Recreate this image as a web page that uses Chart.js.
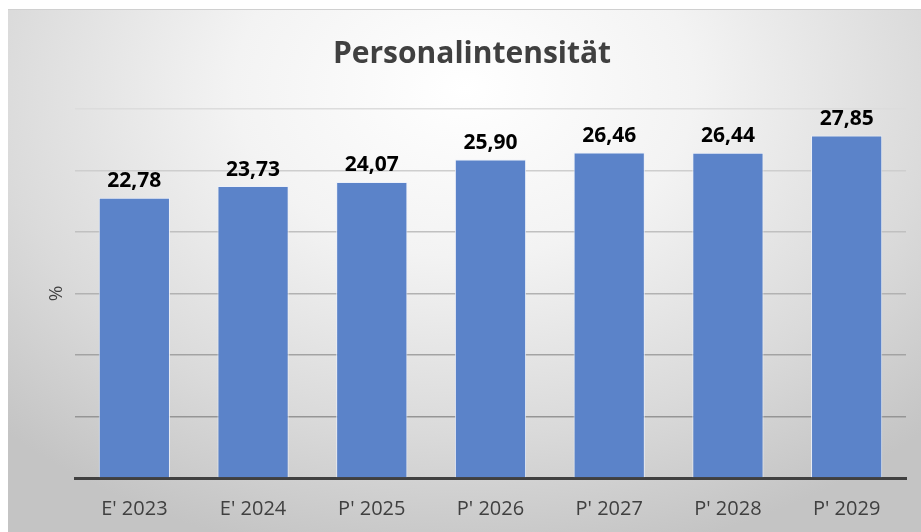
<!DOCTYPE html>
<html>
<head>
<meta charset="utf-8">
<script src="https://cdn.jsdelivr.net/npm/chart.js@4/dist/chart.umd.min.js"></script>
<style>
  html, body { margin: 0; padding: 0; background: #fff; }
  #wrap {
    position: absolute; left: 8px; top: 9px; width: 913px; height: 523px;
    border-top: 1px solid #d0d0d0;
    box-sizing: border-box;
    background: radial-gradient(ellipse 72% 92% at 50% 15%, #ffffff 0%, #f3f3f3 35%, #dadada 72%, #c4c4c4 100%);
  }
</style>
</head>
<body>
<div id="wrap"><canvas id="chart"></canvas></div>
<script>
// Chart data
const categories = ["E' 2023", "E' 2024", "P' 2025", "P' 2026", "P' 2027", "P' 2028", "P' 2029"];
const values = [22.78, 23.73, 24.07, 25.90, 26.46, 26.44, 27.85];
const yTicks = [0, 5, 10, 15, 20, 25, 30];
const chartTitle = 'Personalintensität';

const fmt = v => v.toFixed(2).replace('.', ',');

// value labels above the bars + title (centred over the whole frame)
const barLabels = {
  id: 'barLabels',
  afterDatasetsDraw(chart) {
    const ctx = chart.ctx;
    const meta = chart.getDatasetMeta(0);
    ctx.save();
    ctx.font = 'bold 21px "Open Sans"';
    ctx.fillStyle = '#000';
    ctx.textAlign = 'center';
    ctx.textBaseline = 'bottom';
    meta.data.forEach((bar, i) => {
      ctx.fillText(fmt(values[i]), bar.x, bar.y - 6);
    });
    ctx.font = 'bold 30px "Open Sans"';
    ctx.fillStyle = '#404040';
    ctx.textBaseline = 'middle';
    ctx.fillText(chartTitle, 464, 44);
    ctx.restore();
  }
};

// gridlines get darker toward the bottom
function gridColor(c) {
  const v = c.tick ? c.tick.value : 0;
  const g = Math.round(135 + (v / 30) * 85);
  return 'rgb(' + g + ',' + g + ',' + g + ')';
}

new Chart(document.getElementById('chart'), {
  type: 'bar',
  data: {
    labels: categories,
    datasets: [{
      data: values,
      backgroundColor: '#5b83c9',
      borderColor: 'rgba(235,240,250,0.9)',
      borderWidth: 1,
      categoryPercentage: 0.6,
      barPercentage: 1
    }]
  },
  options: {
    responsive: true,
    maintainAspectRatio: false,
    animation: false,
    layout: { padding: { left: 0, right: 15, top: 99, bottom: 0 } },
    plugins: {
      legend: { display: false },
      tooltip: { enabled: false },
      title: { display: false }
    },
    scales: {
      x: {
        grid: { display: false },
        border: { display: true, color: '#404040', width: 3 },
        ticks: { color: '#404040', font: { family: '"Open Sans"', size: 20 }, padding: 11 }
      },
      y: {
        min: 0, max: 30,
        afterBuildTicks: s => { s.ticks = yTicks.map(v => ({ value: v })); },
        afterFit: s => { s.width = 67; },
        ticks: { display: false },
        grid: { color: gridColor, lineWidth: 1.5, drawTicks: false },
        border: { display: false },
        title: {
          display: true, text: '%', color: '#404040',
          font: { family: '"Open Sans"', size: 19 },
          padding: { top: 37, bottom: 0 }
        }
      }
    }
  },
  plugins: [barLabels]
});
</script>
</body>
</html>
